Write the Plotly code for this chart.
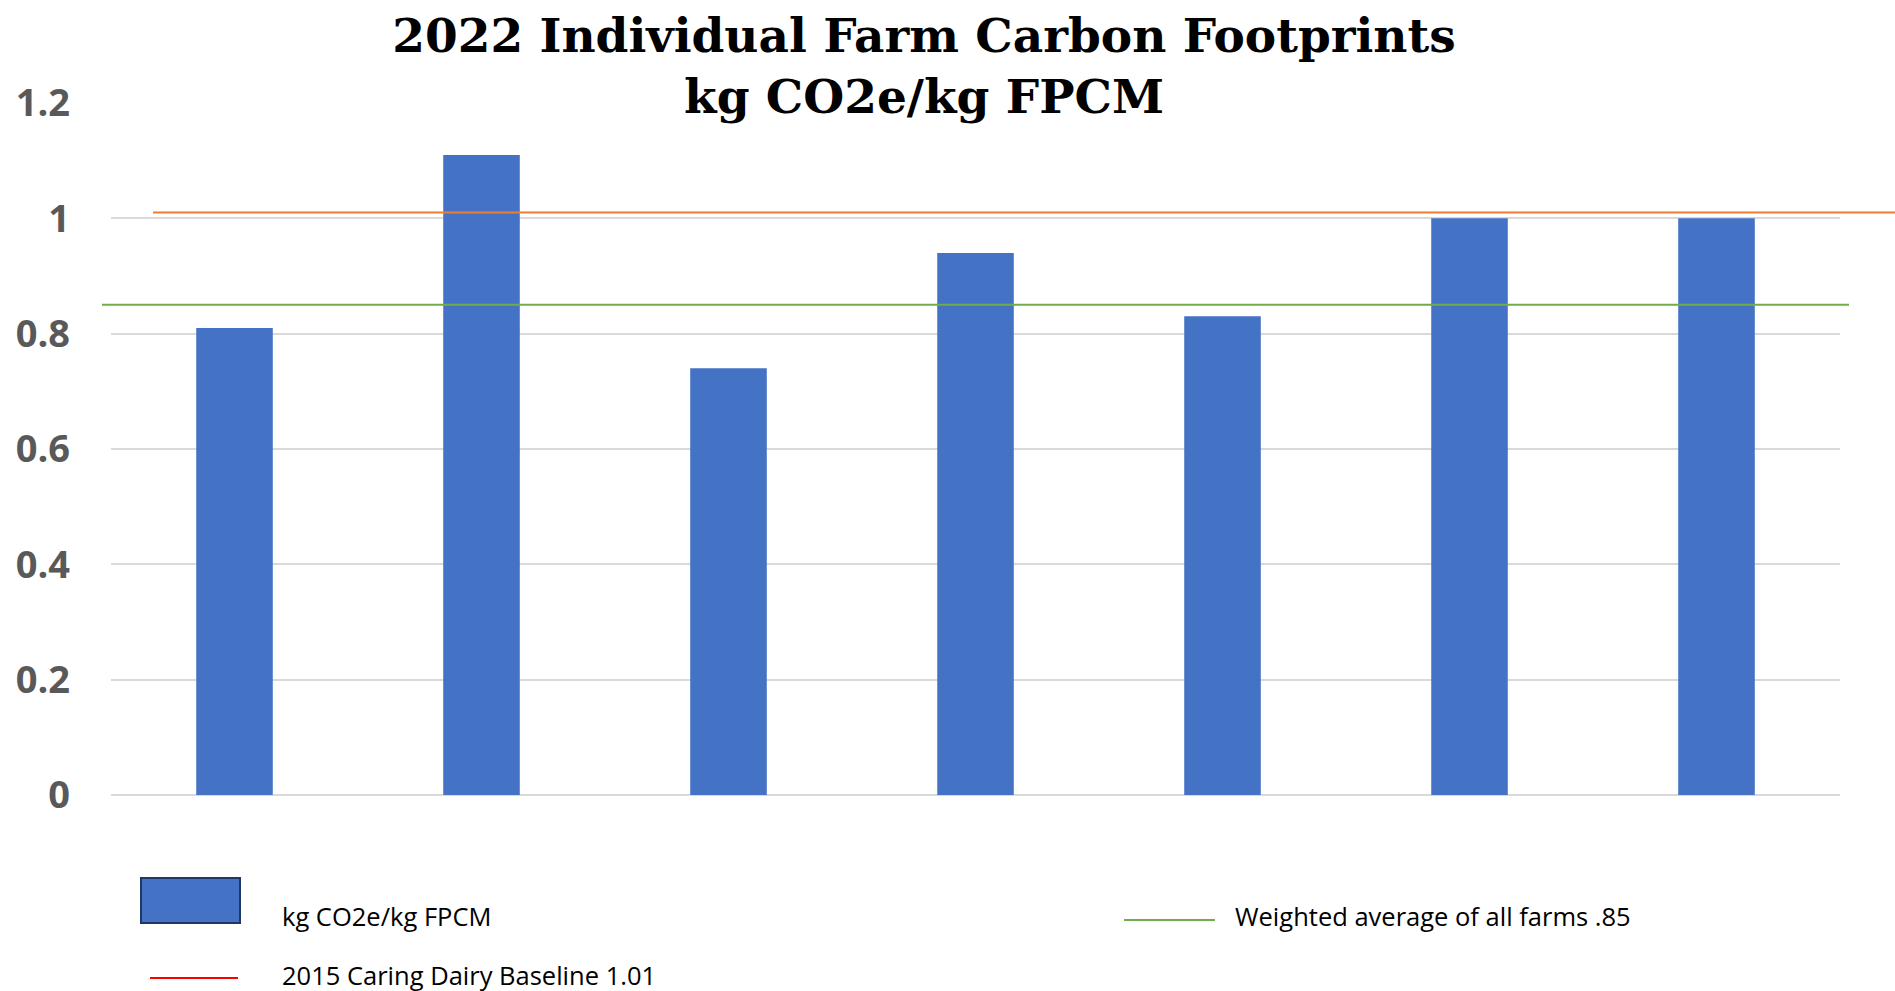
import plotly.graph_objects as go

# Farm-level footprints (kg CO2e per kg FPCM)
farms = ["Farm 1", "Farm 2", "Farm 3", "Farm 4", "Farm 5", "Farm 6", "Farm 7"]
footprint = [0.81, 1.11, 0.74, 0.94, 0.83, 1.00, 1.00]

# Reference levels
baseline_2015 = 1.01
weighted_avg = 0.85

y_ticks = [0, 0.2, 0.4, 0.6, 0.8, 1.0, 1.2]
y_tick_text = ["0", "0.2", "0.4", "0.6", "0.8", "1", "1.2"]

BAR_BLUE = "#4472C4"
ORANGE = "#ED7D31"
GREEN = "#70AD47"
RED = "#FF0000"

W, H = 1895, 991
ML, MR, MT, MB = 111, 55, 103, 196
PW, PH = W - ML - MR, H - MT - MB


def px_x(x):
    return (x - ML) / PW


def px_y(y):
    return (H - MB - y) / PH


fig = go.Figure()
fig.add_trace(go.Bar(
    x=farms, y=footprint, width=0.31,
    marker=dict(color=BAR_BLUE, line=dict(width=0)),
    name="kg CO2e/kg FPCM", showlegend=False,
))

shapes = [
    # baseline and average reference lines
    dict(type="line", xref="paper", yref="y", x0=px_x(153), x1=px_x(1895),
         y0=baseline_2015, y1=baseline_2015, line=dict(color=ORANGE, width=2), layer="above"),
    dict(type="line", xref="paper", yref="y", x0=px_x(102), x1=px_x(1849),
         y0=weighted_avg, y1=weighted_avg, line=dict(color=GREEN, width=2), layer="above"),
    # legend swatches
    dict(type="rect", xref="paper", yref="paper", x0=px_x(141), x1=px_x(240),
         y0=px_y(923), y1=px_y(878), fillcolor=BAR_BLUE, line=dict(color="#203864", width=2)),
    dict(type="line", xref="paper", yref="paper", x0=px_x(1124), x1=px_x(1215),
         y0=px_y(920), y1=px_y(920), line=dict(color=GREEN, width=2)),
    dict(type="line", xref="paper", yref="paper", x0=px_x(150), x1=px_x(238),
         y0=px_y(978), y1=px_y(978), line=dict(color=RED, width=2)),
]

legend_font = dict(family="Open Sans", size=25.5, color="#000000")
annotations = [
    dict(text="kg CO2e/kg FPCM", x=px_x(280), y=px_y(916)),
    dict(text="Weighted average of all farms .85", x=px_x(1233), y=px_y(916)),
    dict(text="2015 Caring Dairy Baseline 1.01", x=px_x(280), y=px_y(975)),
]
for a in annotations:
    a.update(xref="paper", yref="paper", xanchor="left", yanchor="middle",
             showarrow=False, font=legend_font)

fig.update_layout(
    width=W, height=H,
    margin=dict(l=ML, r=MR, t=MT, b=MB),
    paper_bgcolor="white", plot_bgcolor="white",
    title=dict(
        text="2022 Individual Farm Carbon Footprints<br>kg CO2e/kg FPCM",
        x=924 / W, xanchor="center", xref="container",
        y=1 - 52 / H, yanchor="top", yref="container",
        font=dict(family="DejaVu Serif", size=47, color="#000000", weight="bold"),
    ),
    xaxis=dict(showticklabels=False, showgrid=False, zeroline=False,
               showline=False, ticks=""),
    yaxis=dict(range=[0, 1.2], tickvals=y_ticks, ticktext=y_tick_text,
               showgrid=True, gridcolor="#D9D9D9", gridwidth=2,
               zeroline=True, zerolinecolor="#D9D9D9", zerolinewidth=2,
               showline=False, ticks="", ticklabelstandoff=40,
               tickfont=dict(family="Open Sans", size=38, color="#595959", weight="bold")),
    shapes=shapes,
    annotations=annotations,
    showlegend=False,
)

fig.write_html("out.html")
